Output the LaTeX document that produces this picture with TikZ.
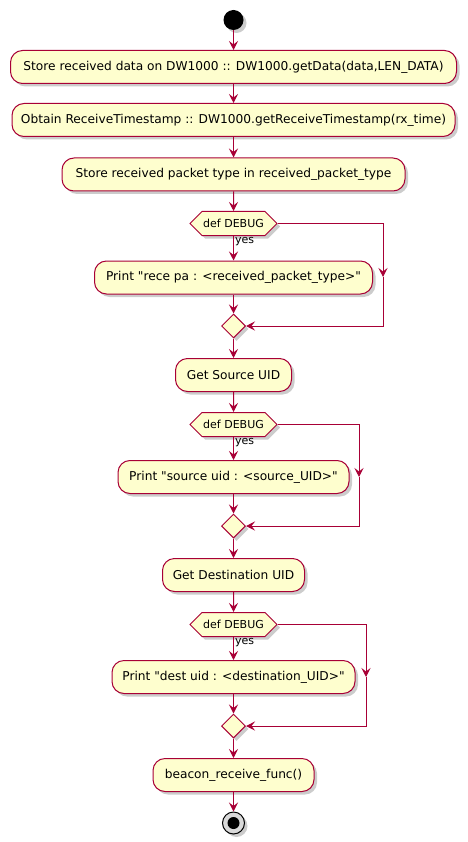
\documentclass[tikz,border=0pt]{standalone}
\usepackage{fontspec}
\setmainfont{DejaVu Sans}[Ligatures=TeXOff]
\usetikzlibrary{arrows.meta, shapes.geometric, shapes.symbols, shadows}
\definecolor{umlred}{HTML}{A80036}
\definecolor{umlfill}{HTML}{FEFECE}
\tikzset{
  umlshadow/.style={drop shadow={shadow xshift=3pt, shadow yshift=-3pt, fill=black!40, opacity=0.5}},
  action/.style={draw=umlred, fill=umlfill, line width=1pt, rounded corners=12pt,
    minimum height=33pt, inner xsep=6pt, font=\fontsize{12.2}{14}\selectfont, umlshadow},
  ifdebug/.style={signal, signal to=east and west, signal pointer angle=90, draw=umlred,
    fill=umlfill, line width=1pt, minimum width=87pt, minimum height=24pt, inner sep=0pt,
    font=\fontsize{11}{13}\selectfont, umlshadow},
  merge/.style={diamond, draw=umlred, fill=umlfill, line width=1pt, minimum size=24pt,
    inner sep=0pt, umlshadow},
  startnode/.style={circle, fill=black, minimum size=20pt, inner sep=0pt, umlshadow},
  stopnode/.style={circle, draw=black, fill=black!15, line width=1pt, minimum size=22pt,
    inner sep=0pt, umlshadow},
  flow/.style={draw=umlred, line width=1pt, -{Stealth[length=9pt,width=9pt,inset=3.5pt]}},
  yeslabel/.style={font=\fontsize{11}{13}\selectfont, inner sep=1pt, anchor=north west}
}
\begin{document}
\begin{tikzpicture}[x=1pt, y=-1pt]
  \useasboundingbox (0,0) rectangle (467,842);
  % main column
  \node[startnode] (start) at (233.5,20) {};
  \node[action, minimum width=446pt] (getdata) at (233.5,67) {Store received data on DW1000 :: DW1000.getData(data,LEN\_DATA)};
  \node[action, minimum width=443pt] (timestamp) at (233.5,120) {Obtain ReceiveTimestamp :: DW1000.getReceiveTimestamp(rx\_time)};
  \node[action, minimum width=343pt] (pkttype) at (233.5,174.5) {Store received packet type in received\_packet\_type};
  \node[ifdebug] (dbg1) at (233.5,223.5) {def DEBUG};
  \node[action, minimum width=278pt] (print1) at (233.5,277.5) {Print "rece pa : <received\_packet\_type>"};
  \node[merge] (merge1) at (233.5,326) {};
  \node[action, minimum width=116pt] (srcuid) at (233.5,375) {Get Source UID};
  \node[ifdebug] (dbg2) at (233.5,424.5) {def DEBUG};
  \node[action, minimum width=231pt] (print2) at (233.5,477) {Print "source uid : <source\_UID>"};
  \node[merge] (merge2) at (233.5,526) {};
  \node[action, minimum width=142pt] (dstuid) at (233.5,575) {Get Destination UID};
  \node[ifdebug] (dbg3) at (233.5,624.5) {def DEBUG};
  \node[action, minimum width=243pt] (print3) at (233.5,677) {Print "dest uid : <destination\_UID>"};
  \node[merge] (merge3) at (233.5,726) {};
  \node[action, minimum width=161pt] (beacon) at (233.5,775) {beacon\_receive\_func()};
  \node[stopnode] (stop) at (233.5,823) {};
  \fill (stop.center) circle (6pt);
  % bypass corners
  \coordinate (skip1) at (383,277);
  \coordinate (skip2) at (359,477);
  \coordinate (skip3) at (366,677);
  % arrows
  \draw[flow] (start) -- (getdata);
  \draw[flow] (getdata) -- (timestamp);
  \draw[flow] (timestamp) -- (pkttype);
  \draw[flow] (pkttype) -- (dbg1);
  \draw[flow] (dbg1.south) -- node[yeslabel, pos=0] {yes} (print1);
  \draw[flow] (print1) -- (merge1);
  \draw[flow] (dbg1.east) -| (skip1);
  \draw[flow] (skip1) |- (merge1.east);
  \draw[flow] (merge1) -- (srcuid);
  \draw[flow] (srcuid) -- (dbg2);
  \draw[flow] (dbg2.south) -- node[yeslabel, pos=0] {yes} (print2);
  \draw[flow] (print2) -- (merge2);
  \draw[flow] (dbg2.east) -| (skip2);
  \draw[flow] (skip2) |- (merge2.east);
  \draw[flow] (merge2) -- (dstuid);
  \draw[flow] (dstuid) -- (dbg3);
  \draw[flow] (dbg3.south) -- node[yeslabel, pos=0] {yes} (print3);
  \draw[flow] (print3) -- (merge3);
  \draw[flow] (dbg3.east) -| (skip3);
  \draw[flow] (skip3) |- (merge3.east);
  \draw[flow] (merge3) -- (beacon);
  \draw[flow] (beacon) -- (stop);
\end{tikzpicture}
\end{document}
